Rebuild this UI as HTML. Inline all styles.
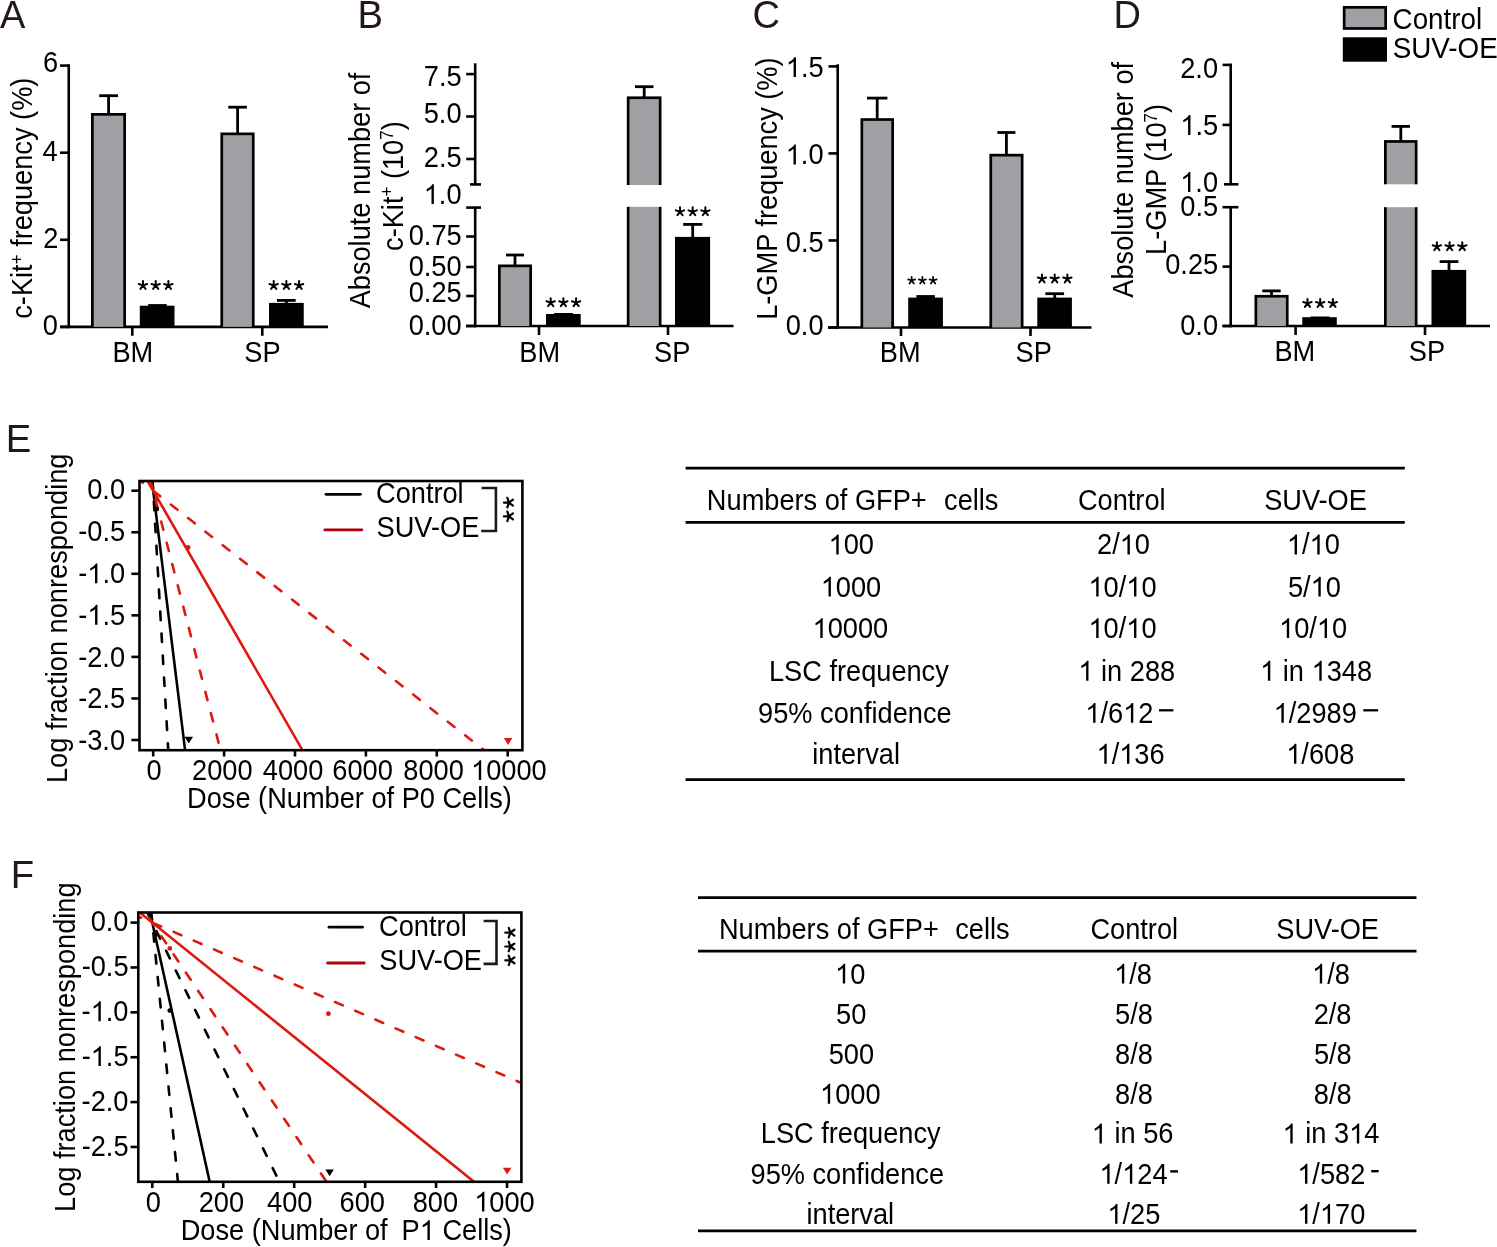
<!DOCTYPE html>
<html><head><meta charset="utf-8"><style>
html,body{margin:0;padding:0;background:#fff;overflow:hidden;}
svg{display:block;will-change:transform;}
text{font-family:"Liberation Sans",sans-serif;}
</style></head><body>
<svg width="1497" height="1247" viewBox="0 0 1497 1247" font-family="Liberation Sans, sans-serif">
<rect x="0" y="0" width="1497" height="1247" fill="#fff"/>
<text transform="translate(-0.08,27.70) scale(1,1.035)" x="0" y="0" font-size="38.021" fill="#231815" >A</text>
<text transform="translate(357.57,27.90) scale(1,1.035)" x="0" y="0" font-size="38.217999999999996" fill="#231815" >B</text>
<text transform="translate(752.56,28.30) scale(1,1.035)" x="0" y="0" font-size="38.021" fill="#231815" >C</text>
<text transform="translate(1113.48,28.10) scale(1,1.035)" x="0" y="0" font-size="38.021" fill="#231815" >D</text>
<text transform="translate(5.87,451.90) scale(1,1.035)" x="0" y="0" font-size="38.217999999999996" fill="#231815" >E</text>
<text transform="translate(10.87,888.10) scale(1,1.035)" x="0" y="0" font-size="38.217999999999996" fill="#231815" >F</text>
<line x1="68.75" y1="64.30" x2="68.75" y2="328.30" stroke="#000" stroke-width="2.6" />
<line x1="60.00" y1="65.60" x2="68.75" y2="65.60" stroke="#000" stroke-width="2.6" />
<text transform="translate(42.97,72.10) scale(1,1.06)" x="0" y="0" font-size="27.2" fill="#000" >6</text>
<line x1="60.00" y1="152.70" x2="68.75" y2="152.70" stroke="#000" stroke-width="2.6" />
<text transform="translate(42.57,161.20) scale(1,1.06)" x="0" y="0" font-size="27.2" fill="#000" >4</text>
<line x1="60.00" y1="239.80" x2="68.75" y2="239.80" stroke="#000" stroke-width="2.6" />
<text transform="translate(43.14,247.70) scale(1,1.06)" x="0" y="0" font-size="27.2" fill="#000" >2</text>
<line x1="60.00" y1="326.90" x2="68.75" y2="326.90" stroke="#000" stroke-width="2.6" />
<text transform="translate(42.84,334.90) scale(1,1.06)" x="0" y="0" font-size="27.2" fill="#000" >0</text>
<line x1="60.00" y1="326.90" x2="328.00" y2="326.90" stroke="#000" stroke-width="2.6" />
<line x1="132.30" y1="326.90" x2="132.30" y2="335.80" stroke="#000" stroke-width="2.6" />
<line x1="262.30" y1="326.90" x2="262.30" y2="335.80" stroke="#000" stroke-width="2.6" />
<rect x="91.00" y="113.00" width="35.00" height="213.90" fill="#000"/>
<rect x="93.70" y="115.70" width="29.60" height="211.20" fill="#9fa0a4"/>
<line x1="108.60" y1="114.00" x2="108.60" y2="95.70" stroke="#000" stroke-width="2.8" />
<line x1="99.20" y1="95.70" x2="118.00" y2="95.70" stroke="#000" stroke-width="2.8" />
<rect x="139.80" y="305.70" width="34.70" height="21.20" fill="#000"/>
<rect x="148.20" y="304.10" width="18.50" height="2.60" fill="#000"/>
<rect x="220.40" y="132.50" width="34.20" height="194.40" fill="#000"/>
<rect x="223.10" y="135.20" width="28.80" height="191.70" fill="#9fa0a4"/>
<line x1="237.60" y1="133.50" x2="237.60" y2="107.20" stroke="#000" stroke-width="2.8" />
<line x1="228.30" y1="107.20" x2="246.90" y2="107.20" stroke="#000" stroke-width="2.8" />
<rect x="269.00" y="302.90" width="34.75" height="24.00" fill="#000"/>
<line x1="286.35" y1="303.90" x2="286.35" y2="300.40" stroke="#000" stroke-width="2.8" />
<line x1="277.00" y1="300.40" x2="295.70" y2="300.40" stroke="#000" stroke-width="2.8" />
<path d="M142.98,285.40l0.00,-4.40M142.98,285.40l4.18,-1.36M142.98,285.40l2.59,3.56M142.98,285.40l-2.59,3.56M142.98,285.40l-4.18,-1.36" stroke="#000" stroke-width="2.0" stroke-linecap="round" fill="none"/>
<path d="M155.68,285.40l0.00,-4.40M155.68,285.40l4.18,-1.36M155.68,285.40l2.59,3.56M155.68,285.40l-2.59,3.56M155.68,285.40l-4.18,-1.36" stroke="#000" stroke-width="2.0" stroke-linecap="round" fill="none"/>
<path d="M168.38,285.40l0.00,-4.40M168.38,285.40l4.18,-1.36M168.38,285.40l2.59,3.56M168.38,285.40l-2.59,3.56M168.38,285.40l-4.18,-1.36" stroke="#000" stroke-width="2.0" stroke-linecap="round" fill="none"/>
<path d="M273.68,285.40l0.00,-4.40M273.68,285.40l4.18,-1.36M273.68,285.40l2.59,3.56M273.68,285.40l-2.59,3.56M273.68,285.40l-4.18,-1.36" stroke="#000" stroke-width="2.0" stroke-linecap="round" fill="none"/>
<path d="M286.38,285.40l0.00,-4.40M286.38,285.40l4.18,-1.36M286.38,285.40l2.59,3.56M286.38,285.40l-2.59,3.56M286.38,285.40l-4.18,-1.36" stroke="#000" stroke-width="2.0" stroke-linecap="round" fill="none"/>
<path d="M299.08,285.40l0.00,-4.40M299.08,285.40l4.18,-1.36M299.08,285.40l2.59,3.56M299.08,285.40l-2.59,3.56M299.08,285.40l-4.18,-1.36" stroke="#000" stroke-width="2.0" stroke-linecap="round" fill="none"/>
<text transform="translate(112.47,362.00) scale(1,1.06)" x="0" y="0" font-size="27.2" fill="#000" >BM</text>
<text transform="translate(244.25,361.60) scale(1,1.06)" x="0" y="0" font-size="27.2" fill="#000" >SP</text>
<text transform="translate(31.70,318.74) rotate(-90) scale(1,1.06)" x="0" y="0" font-size="27.2" fill="#000"><tspan font-size="27.2">c-Kit</tspan><tspan font-size="17" dy="-8">+</tspan><tspan font-size="27.2" dy="8"> frequency (%)</tspan></text>
<line x1="475.20" y1="63.30" x2="475.20" y2="184.40" stroke="#000" stroke-width="2.6" />
<line x1="470.00" y1="184.40" x2="481.00" y2="184.40" stroke="#000" stroke-width="2.6" />
<line x1="475.20" y1="207.60" x2="475.20" y2="327.30" stroke="#000" stroke-width="2.6" />
<line x1="466.20" y1="207.60" x2="481.00" y2="207.60" stroke="#000" stroke-width="2.6" />
<line x1="466.20" y1="74.10" x2="475.20" y2="74.10" stroke="#000" stroke-width="2.6" />
<text transform="translate(423.83,85.80) scale(1,1.06)" x="0" y="0" font-size="27.2" fill="#000" >7.5</text>
<line x1="466.20" y1="116.50" x2="475.20" y2="116.50" stroke="#000" stroke-width="2.6" />
<text transform="translate(423.75,122.70) scale(1,1.06)" x="0" y="0" font-size="27.2" fill="#000" >5.0</text>
<line x1="466.20" y1="159.00" x2="475.20" y2="159.00" stroke="#000" stroke-width="2.6" />
<text transform="translate(423.83,167.00) scale(1,1.06)" x="0" y="0" font-size="27.2" fill="#000" >2.5</text>
<text transform="translate(423.75,204.10) scale(1,1.06)" x="0.00 15.13 22.68" y="0" font-size="27.2" fill="#000" > .0</text>
<path transform="translate(423.75,204.10) scale(0.01328,-0.01355)" d="M763,0 L583,0 L583,1147 Q518,1085 421,1028 Q324,971 222,933 L222,1107 Q390,1186 499,1283.5 Q608,1381 646,1466 L763,1466 Z" fill="#000"/>
<line x1="466.20" y1="236.50" x2="475.20" y2="236.50" stroke="#000" stroke-width="2.6" />
<text transform="translate(408.71,244.50) scale(1,1.06)" x="0" y="0" font-size="27.2" fill="#000" >0.75</text>
<line x1="466.20" y1="267.00" x2="475.20" y2="267.00" stroke="#000" stroke-width="2.6" />
<text transform="translate(408.63,275.60) scale(1,1.06)" x="0" y="0" font-size="27.2" fill="#000" >0.50</text>
<line x1="466.20" y1="296.00" x2="475.20" y2="296.00" stroke="#000" stroke-width="2.6" />
<text transform="translate(408.71,301.70) scale(1,1.06)" x="0" y="0" font-size="27.2" fill="#000" >0.25</text>
<line x1="466.20" y1="326.00" x2="475.20" y2="326.00" stroke="#000" stroke-width="2.6" />
<text transform="translate(408.63,334.50) scale(1,1.06)" x="0" y="0" font-size="27.2" fill="#000" >0.00</text>
<line x1="466.20" y1="326.00" x2="733.50" y2="326.00" stroke="#000" stroke-width="2.6" />
<line x1="539.00" y1="326.00" x2="539.00" y2="335.00" stroke="#000" stroke-width="2.6" />
<line x1="668.00" y1="326.00" x2="668.00" y2="335.00" stroke="#000" stroke-width="2.6" />
<rect x="498.00" y="264.50" width="34.00" height="61.50" fill="#000"/>
<rect x="500.70" y="267.20" width="28.60" height="58.80" fill="#9fa0a4"/>
<line x1="515.00" y1="265.50" x2="515.00" y2="255.00" stroke="#000" stroke-width="2.8" />
<line x1="506.00" y1="255.00" x2="524.00" y2="255.00" stroke="#000" stroke-width="2.8" />
<rect x="546.00" y="314.00" width="34.70" height="12.00" fill="#000"/>
<rect x="554.00" y="313.00" width="18.90" height="2.00" fill="#000"/>
<rect x="626.80" y="96.40" width="34.70" height="229.60" fill="#000"/>
<rect x="629.50" y="99.10" width="29.30" height="226.90" fill="#9fa0a4"/>
<rect x="625.80" y="185.00" width="36.70" height="21.80" fill="#fff"/>
<line x1="644.20" y1="97.40" x2="644.20" y2="86.70" stroke="#000" stroke-width="2.8" />
<line x1="634.90" y1="86.70" x2="653.50" y2="86.70" stroke="#000" stroke-width="2.8" />
<rect x="675.00" y="236.90" width="35.10" height="89.10" fill="#000"/>
<line x1="692.70" y1="237.90" x2="692.70" y2="224.40" stroke="#000" stroke-width="2.8" />
<line x1="683.15" y1="224.40" x2="702.25" y2="224.40" stroke="#000" stroke-width="2.8" />
<path d="M550.68,302.60l0.00,-4.40M550.68,302.60l4.18,-1.36M550.68,302.60l2.59,3.56M550.68,302.60l-2.59,3.56M550.68,302.60l-4.18,-1.36" stroke="#000" stroke-width="2.0" stroke-linecap="round" fill="none"/>
<path d="M563.38,302.60l0.00,-4.40M563.38,302.60l4.18,-1.36M563.38,302.60l2.59,3.56M563.38,302.60l-2.59,3.56M563.38,302.60l-4.18,-1.36" stroke="#000" stroke-width="2.0" stroke-linecap="round" fill="none"/>
<path d="M576.08,302.60l0.00,-4.40M576.08,302.60l4.18,-1.36M576.08,302.60l2.59,3.56M576.08,302.60l-2.59,3.56M576.08,302.60l-4.18,-1.36" stroke="#000" stroke-width="2.0" stroke-linecap="round" fill="none"/>
<path d="M679.98,211.70l0.00,-4.40M679.98,211.70l4.18,-1.36M679.98,211.70l2.59,3.56M679.98,211.70l-2.59,3.56M679.98,211.70l-4.18,-1.36" stroke="#000" stroke-width="2.0" stroke-linecap="round" fill="none"/>
<path d="M692.68,211.70l0.00,-4.40M692.68,211.70l4.18,-1.36M692.68,211.70l2.59,3.56M692.68,211.70l-2.59,3.56M692.68,211.70l-4.18,-1.36" stroke="#000" stroke-width="2.0" stroke-linecap="round" fill="none"/>
<path d="M705.38,211.70l0.00,-4.40M705.38,211.70l4.18,-1.36M705.38,211.70l2.59,3.56M705.38,211.70l-2.59,3.56M705.38,211.70l-4.18,-1.36" stroke="#000" stroke-width="2.0" stroke-linecap="round" fill="none"/>
<text transform="translate(519.37,361.60) scale(1,1.06)" x="0" y="0" font-size="27.2" fill="#000" >BM</text>
<text transform="translate(654.05,361.60) scale(1,1.06)" x="0" y="0" font-size="27.2" fill="#000" >SP</text>
<text transform="translate(369.70,308.35) rotate(-90) scale(1,1.06)" x="0" y="0" font-size="27.2" fill="#000"><tspan font-size="27.2">Absolute number of</tspan></text>
<text transform="translate(402.50,250.94) rotate(-90) scale(1,1.06)" x="0" y="0" font-size="27.2" fill="#000"><tspan font-size="27.2">c-Kit</tspan><tspan font-size="17" dy="-9">+</tspan><tspan font-size="27.2" dy="9"> (10</tspan><tspan font-size="17" dy="-9">7</tspan><tspan font-size="27.2" dy="9">)</tspan></text>
<line x1="837.70" y1="64.30" x2="837.70" y2="328.80" stroke="#000" stroke-width="2.6" />
<line x1="828.50" y1="66.39" x2="837.70" y2="66.39" stroke="#000" stroke-width="2.6" />
<text transform="translate(785.83,77.10) scale(1,1.06)" x="0.00 15.13 22.68" y="0" font-size="27.2" fill="#000" > .5</text>
<path transform="translate(785.83,77.10) scale(0.01328,-0.01355)" d="M763,0 L583,0 L583,1147 Q518,1085 421,1028 Q324,971 222,933 L222,1107 Q390,1186 499,1283.5 Q608,1381 646,1466 L763,1466 Z" fill="#000"/>
<line x1="828.50" y1="153.43" x2="837.70" y2="153.43" stroke="#000" stroke-width="2.6" />
<text transform="translate(785.75,164.40) scale(1,1.06)" x="0.00 15.13 22.68" y="0" font-size="27.2" fill="#000" > .0</text>
<path transform="translate(785.75,164.40) scale(0.01328,-0.01355)" d="M763,0 L583,0 L583,1147 Q518,1085 421,1028 Q324,971 222,933 L222,1107 Q390,1186 499,1283.5 Q608,1381 646,1466 L763,1466 Z" fill="#000"/>
<line x1="828.50" y1="240.47" x2="837.70" y2="240.47" stroke="#000" stroke-width="2.6" />
<text transform="translate(785.83,251.90) scale(1,1.06)" x="0" y="0" font-size="27.2" fill="#000" >0.5</text>
<line x1="828.50" y1="327.50" x2="837.70" y2="327.50" stroke="#000" stroke-width="2.6" />
<text transform="translate(785.75,334.90) scale(1,1.06)" x="0" y="0" font-size="27.2" fill="#000" >0.0</text>
<line x1="828.00" y1="327.50" x2="1091.50" y2="327.50" stroke="#000" stroke-width="2.6" />
<line x1="901.00" y1="327.50" x2="901.00" y2="336.00" stroke="#000" stroke-width="2.6" />
<line x1="1030.50" y1="327.50" x2="1030.50" y2="336.00" stroke="#000" stroke-width="2.6" />
<rect x="860.50" y="118.20" width="33.50" height="209.30" fill="#000"/>
<rect x="863.20" y="120.90" width="28.10" height="206.60" fill="#9fa0a4"/>
<line x1="877.20" y1="119.20" x2="877.20" y2="98.10" stroke="#000" stroke-width="2.8" />
<line x1="867.00" y1="98.10" x2="887.40" y2="98.10" stroke="#000" stroke-width="2.8" />
<rect x="908.20" y="297.60" width="34.70" height="29.90" fill="#000"/>
<rect x="916.40" y="295.10" width="18.50" height="3.50" fill="#000"/>
<rect x="989.40" y="153.80" width="34.10" height="173.70" fill="#000"/>
<rect x="992.10" y="156.50" width="28.70" height="171.00" fill="#9fa0a4"/>
<line x1="1006.40" y1="154.80" x2="1006.40" y2="132.50" stroke="#000" stroke-width="2.8" />
<line x1="997.40" y1="132.50" x2="1015.40" y2="132.50" stroke="#000" stroke-width="2.8" />
<rect x="1037.30" y="297.60" width="34.60" height="29.90" fill="#000"/>
<line x1="1054.75" y1="298.60" x2="1054.75" y2="293.70" stroke="#000" stroke-width="2.8" />
<line x1="1045.40" y1="293.70" x2="1064.10" y2="293.70" stroke="#000" stroke-width="2.8" />
<path d="M911.67,280.55l0.00,-3.70M911.67,280.55l3.52,-1.14M911.67,280.55l2.17,2.99M911.67,280.55l-2.17,2.99M911.67,280.55l-3.52,-1.14" stroke="#000" stroke-width="1.7" stroke-linecap="round" fill="none"/>
<path d="M922.37,280.55l0.00,-3.70M922.37,280.55l3.52,-1.14M922.37,280.55l2.17,2.99M922.37,280.55l-2.17,2.99M922.37,280.55l-3.52,-1.14" stroke="#000" stroke-width="1.7" stroke-linecap="round" fill="none"/>
<path d="M933.07,280.55l0.00,-3.70M933.07,280.55l3.52,-1.14M933.07,280.55l2.17,2.99M933.07,280.55l-2.17,2.99M933.07,280.55l-3.52,-1.14" stroke="#000" stroke-width="1.7" stroke-linecap="round" fill="none"/>
<path d="M1041.98,278.80l0.00,-4.40M1041.98,278.80l4.18,-1.36M1041.98,278.80l2.59,3.56M1041.98,278.80l-2.59,3.56M1041.98,278.80l-4.18,-1.36" stroke="#000" stroke-width="2.0" stroke-linecap="round" fill="none"/>
<path d="M1054.68,278.80l0.00,-4.40M1054.68,278.80l4.18,-1.36M1054.68,278.80l2.59,3.56M1054.68,278.80l-2.59,3.56M1054.68,278.80l-4.18,-1.36" stroke="#000" stroke-width="2.0" stroke-linecap="round" fill="none"/>
<path d="M1067.38,278.80l0.00,-4.40M1067.38,278.80l4.18,-1.36M1067.38,278.80l2.59,3.56M1067.38,278.80l-2.59,3.56M1067.38,278.80l-4.18,-1.36" stroke="#000" stroke-width="2.0" stroke-linecap="round" fill="none"/>
<text transform="translate(879.77,362.00) scale(1,1.06)" x="0" y="0" font-size="27.2" fill="#000" >BM</text>
<text transform="translate(1015.55,362.00) scale(1,1.06)" x="0" y="0" font-size="27.2" fill="#000" >SP</text>
<text transform="translate(777.00,319.83) rotate(-90) scale(1,1.06)" x="0" y="0" font-size="27.2" fill="#000"><tspan font-size="27.2">L-GMP frequency (%)</tspan></text>
<line x1="1230.70" y1="63.60" x2="1230.70" y2="184.30" stroke="#000" stroke-width="2.6" />
<line x1="1224.00" y1="184.30" x2="1238.40" y2="184.30" stroke="#000" stroke-width="2.6" />
<line x1="1230.70" y1="207.20" x2="1230.70" y2="327.30" stroke="#000" stroke-width="2.6" />
<line x1="1222.50" y1="207.20" x2="1238.40" y2="207.20" stroke="#000" stroke-width="2.6" />
<line x1="1222.50" y1="64.90" x2="1230.70" y2="64.90" stroke="#000" stroke-width="2.6" />
<text transform="translate(1180.25,77.90) scale(1,1.06)" x="0" y="0" font-size="27.2" fill="#000" >2.0</text>
<line x1="1222.50" y1="124.90" x2="1230.70" y2="124.90" stroke="#000" stroke-width="2.6" />
<text transform="translate(1180.33,134.90) scale(1,1.06)" x="0.00 15.13 22.68" y="0" font-size="27.2" fill="#000" > .5</text>
<path transform="translate(1180.33,134.90) scale(0.01328,-0.01355)" d="M763,0 L583,0 L583,1147 Q518,1085 421,1028 Q324,971 222,933 L222,1107 Q390,1186 499,1283.5 Q608,1381 646,1466 L763,1466 Z" fill="#000"/>
<text transform="translate(1180.25,191.90) scale(1,1.06)" x="0.00 15.13 22.68" y="0" font-size="27.2" fill="#000" > .0</text>
<path transform="translate(1180.25,191.90) scale(0.01328,-0.01355)" d="M763,0 L583,0 L583,1147 Q518,1085 421,1028 Q324,971 222,933 L222,1107 Q390,1186 499,1283.5 Q608,1381 646,1466 L763,1466 Z" fill="#000"/>
<text transform="translate(1180.33,216.30) scale(1,1.06)" x="0" y="0" font-size="27.2" fill="#000" >0.5</text>
<line x1="1222.50" y1="266.60" x2="1230.70" y2="266.60" stroke="#000" stroke-width="2.6" />
<text transform="translate(1165.21,274.40) scale(1,1.06)" x="0" y="0" font-size="27.2" fill="#000" >0.25</text>
<line x1="1222.50" y1="326.00" x2="1230.70" y2="326.00" stroke="#000" stroke-width="2.6" />
<text transform="translate(1180.25,334.90) scale(1,1.06)" x="0" y="0" font-size="27.2" fill="#000" >0.0</text>
<line x1="1222.50" y1="326.00" x2="1490.00" y2="326.00" stroke="#000" stroke-width="2.6" />
<line x1="1295.60" y1="326.00" x2="1295.60" y2="335.00" stroke="#000" stroke-width="2.6" />
<line x1="1425.00" y1="326.00" x2="1425.00" y2="335.00" stroke="#000" stroke-width="2.6" />
<rect x="1254.50" y="294.90" width="34.10" height="31.10" fill="#000"/>
<rect x="1257.20" y="297.60" width="28.70" height="28.40" fill="#9fa0a4"/>
<line x1="1271.50" y1="295.90" x2="1271.50" y2="290.90" stroke="#000" stroke-width="2.8" />
<line x1="1262.30" y1="290.90" x2="1280.70" y2="290.90" stroke="#000" stroke-width="2.8" />
<rect x="1302.30" y="317.20" width="34.50" height="8.80" fill="#000"/>
<rect x="1310.70" y="316.50" width="18.70" height="1.70" fill="#000"/>
<rect x="1384.00" y="140.10" width="33.50" height="185.90" fill="#000"/>
<rect x="1386.70" y="142.80" width="28.10" height="183.20" fill="#9fa0a4"/>
<rect x="1383.00" y="184.30" width="35.50" height="22.90" fill="#fff"/>
<line x1="1400.80" y1="141.10" x2="1400.80" y2="126.40" stroke="#000" stroke-width="2.8" />
<line x1="1391.60" y1="126.40" x2="1410.00" y2="126.40" stroke="#000" stroke-width="2.8" />
<rect x="1431.50" y="269.90" width="34.70" height="56.10" fill="#000"/>
<line x1="1449.00" y1="270.90" x2="1449.00" y2="261.60" stroke="#000" stroke-width="2.8" />
<line x1="1439.65" y1="261.60" x2="1458.35" y2="261.60" stroke="#000" stroke-width="2.8" />
<path d="M1307.48,303.40l0.00,-4.40M1307.48,303.40l4.18,-1.36M1307.48,303.40l2.59,3.56M1307.48,303.40l-2.59,3.56M1307.48,303.40l-4.18,-1.36" stroke="#000" stroke-width="2.0" stroke-linecap="round" fill="none"/>
<path d="M1320.18,303.40l0.00,-4.40M1320.18,303.40l4.18,-1.36M1320.18,303.40l2.59,3.56M1320.18,303.40l-2.59,3.56M1320.18,303.40l-4.18,-1.36" stroke="#000" stroke-width="2.0" stroke-linecap="round" fill="none"/>
<path d="M1332.88,303.40l0.00,-4.40M1332.88,303.40l4.18,-1.36M1332.88,303.40l2.59,3.56M1332.88,303.40l-2.59,3.56M1332.88,303.40l-4.18,-1.36" stroke="#000" stroke-width="2.0" stroke-linecap="round" fill="none"/>
<path d="M1436.88,246.60l0.00,-4.40M1436.88,246.60l4.18,-1.36M1436.88,246.60l2.59,3.56M1436.88,246.60l-2.59,3.56M1436.88,246.60l-4.18,-1.36" stroke="#000" stroke-width="2.0" stroke-linecap="round" fill="none"/>
<path d="M1449.58,246.60l0.00,-4.40M1449.58,246.60l4.18,-1.36M1449.58,246.60l2.59,3.56M1449.58,246.60l-2.59,3.56M1449.58,246.60l-4.18,-1.36" stroke="#000" stroke-width="2.0" stroke-linecap="round" fill="none"/>
<path d="M1462.28,246.60l0.00,-4.40M1462.28,246.60l4.18,-1.36M1462.28,246.60l2.59,3.56M1462.28,246.60l-2.59,3.56M1462.28,246.60l-4.18,-1.36" stroke="#000" stroke-width="2.0" stroke-linecap="round" fill="none"/>
<text transform="translate(1274.47,361.00) scale(1,1.06)" x="0" y="0" font-size="27.2" fill="#000" >BM</text>
<text transform="translate(1408.75,361.00) scale(1,1.06)" x="0" y="0" font-size="27.2" fill="#000" >SP</text>
<text transform="translate(1133.40,297.65) rotate(-90) scale(1,1.06)" x="0" y="0" font-size="27.2" fill="#000"><tspan font-size="27.2">Absolute number of</tspan></text>
<text transform="translate(1166.20,254.93) rotate(-90) scale(1,1.06)" x="0" y="0" font-size="27.2" fill="#000"><tspan font-size="27.2">L-GMP (10</tspan><tspan font-size="17" dy="-9">7</tspan><tspan font-size="27.2" dy="9">)</tspan></text>
<rect x="1342.80" y="6.00" width="44.20" height="23.80" fill="#000"/>
<rect x="1345.50" y="8.70" width="38.80" height="18.40" fill="#9fa0a4"/>
<rect x="1342.80" y="37.30" width="44.20" height="24.40" fill="#000"/>
<text transform="translate(1392.58,29.00) scale(1,1.06)" x="0" y="0" font-size="27.8" fill="#000" >Control</text>
<text transform="translate(1392.72,57.90) scale(1,1.06)" x="0" y="0" font-size="27.8" fill="#000" >SUV-OE</text>
<clipPath id="cE"><rect x="139.5" y="481" width="382.9" height="269.20000000000005"/></clipPath>
<g clip-path="url(#cE)">
<line x1="152.64" y1="481.00" x2="168.26" y2="750.20" stroke="#000" stroke-width="2.6" stroke-linecap="round" stroke-dasharray="8.5 13.5" stroke-dashoffset="1.2"/>
<line x1="152.01" y1="481.00" x2="185.08" y2="750.20" stroke="#000" stroke-width="2.6" stroke-linecap="round"/>
<line x1="140.83" y1="481.00" x2="484.09" y2="750.20" stroke="#dc1a10" stroke-width="2.6" stroke-linecap="round" stroke-dasharray="8.5 13.5" stroke-dashoffset="5.9"/>
<line x1="147.62" y1="481.00" x2="302.43" y2="750.20" stroke="#dc1a10" stroke-width="2.6" stroke-linecap="round"/>
<line x1="150.68" y1="481.00" x2="220.51" y2="750.20" stroke="#dc1a10" stroke-width="2.6" stroke-linecap="round" stroke-dasharray="8.5 13.5" stroke-dashoffset="2.2"/>
</g>
<rect x="139.5" y="481" width="382.9" height="269.20000000000005" fill="none" stroke="#000" stroke-width="2.6"/>
<line x1="131.40" y1="490.70" x2="139.50" y2="490.70" stroke="#000" stroke-width="2.6" />
<text transform="translate(87.25,499.10) scale(1,1.06)" x="0" y="0" font-size="27.2" fill="#000" >0.0</text>
<line x1="131.40" y1="532.25" x2="139.50" y2="532.25" stroke="#000" stroke-width="2.6" />
<text transform="translate(78.28,540.90) scale(1,1.06)" x="0" y="0" font-size="27.2" fill="#000" >-0.5</text>
<line x1="131.40" y1="573.80" x2="139.50" y2="573.80" stroke="#000" stroke-width="2.6" />
<text transform="translate(78.20,583.30) scale(1,1.06)" x="0.00 9.06 24.19 31.74" y="0" font-size="27.2" fill="#000" >- .0</text>
<path transform="translate(87.25,583.30) scale(0.01328,-0.01355)" d="M763,0 L583,0 L583,1147 Q518,1085 421,1028 Q324,971 222,933 L222,1107 Q390,1186 499,1283.5 Q608,1381 646,1466 L763,1466 Z" fill="#000"/>
<line x1="131.40" y1="615.35" x2="139.50" y2="615.35" stroke="#000" stroke-width="2.6" />
<text transform="translate(78.28,624.70) scale(1,1.06)" x="0.00 9.06 24.19 31.74" y="0" font-size="27.2" fill="#000" >- .5</text>
<path transform="translate(87.33,624.70) scale(0.01328,-0.01355)" d="M763,0 L583,0 L583,1147 Q518,1085 421,1028 Q324,971 222,933 L222,1107 Q390,1186 499,1283.5 Q608,1381 646,1466 L763,1466 Z" fill="#000"/>
<line x1="131.40" y1="656.90" x2="139.50" y2="656.90" stroke="#000" stroke-width="2.6" />
<text transform="translate(78.20,666.50) scale(1,1.06)" x="0" y="0" font-size="27.2" fill="#000" >-2.0</text>
<line x1="131.40" y1="698.45" x2="139.50" y2="698.45" stroke="#000" stroke-width="2.6" />
<text transform="translate(78.28,708.40) scale(1,1.06)" x="0" y="0" font-size="27.2" fill="#000" >-2.5</text>
<line x1="131.40" y1="740.00" x2="139.50" y2="740.00" stroke="#000" stroke-width="2.6" />
<text transform="translate(78.20,750.20) scale(1,1.06)" x="0" y="0" font-size="27.2" fill="#000" >-3.0</text>
<line x1="153.20" y1="750.20" x2="153.20" y2="756.50" stroke="#000" stroke-width="2.6" />
<text transform="translate(146.44,780.10) scale(1,1.06)" x="0" y="0" font-size="27.2" fill="#000" >0</text>
<line x1="224.10" y1="750.20" x2="224.10" y2="756.50" stroke="#000" stroke-width="2.6" />
<text transform="translate(192.04,780.10) scale(1,1.06)" x="0" y="0" font-size="27.2" fill="#000" >2000</text>
<line x1="295.00" y1="750.20" x2="295.00" y2="756.50" stroke="#000" stroke-width="2.6" />
<text transform="translate(262.77,780.10) scale(1,1.06)" x="0" y="0" font-size="27.2" fill="#000" >4000</text>
<line x1="365.90" y1="750.20" x2="365.90" y2="756.50" stroke="#000" stroke-width="2.6" />
<text transform="translate(332.31,780.10) scale(1,1.06)" x="0" y="0" font-size="27.2" fill="#000" >6000</text>
<line x1="436.80" y1="750.20" x2="436.80" y2="756.50" stroke="#000" stroke-width="2.6" />
<text transform="translate(403.33,780.10) scale(1,1.06)" x="0" y="0" font-size="27.2" fill="#000" >8000</text>
<line x1="507.70" y1="750.20" x2="507.70" y2="756.50" stroke="#000" stroke-width="2.6" />
<text transform="translate(471.05,780.10) scale(1,1.06)" x="0.00 15.13 30.25 45.38 60.51" y="0" font-size="27.2" fill="#000" > 0000</text>
<path transform="translate(471.05,780.10) scale(0.01328,-0.01355)" d="M763,0 L583,0 L583,1147 Q518,1085 421,1028 Q324,971 222,933 L222,1107 Q390,1186 499,1283.5 Q608,1381 646,1466 L763,1466 Z" fill="#000"/>
<text transform="translate(187.07,808.00) scale(1,1.06)" x="0" y="0" font-size="27.2" fill="#000" >Dose (Number of P0 Cells)</text>
<text transform="translate(67.40,783.03) rotate(-90) scale(1,1.06)" x="0" y="0" font-size="27.2" fill="#000"><tspan font-size="27.2">Log fraction nonresponding</tspan></text>
<circle cx="156.70" cy="499.50" r="2.4" fill="#dc1a10"/>
<circle cx="156.70" cy="509.20" r="2.4" fill="#000"/>
<circle cx="188.10" cy="547.50" r="2.4" fill="#dc1a10"/>
<path d="M184.55,736.70 L193.05,736.70 L188.80,743.50 Z" fill="#000"/>
<path d="M503.85,738.10 L512.35,738.10 L508.10,744.90 Z" fill="#dc1a10"/>
<line x1="326.00" y1="494.30" x2="360.50" y2="494.30" stroke="#0a0000" stroke-width="2.8" stroke-linecap="round"/>
<line x1="324.80" y1="529.80" x2="361.90" y2="529.80" stroke="#b0000a" stroke-width="2.8" stroke-linecap="round"/>
<text transform="translate(376.01,502.90) scale(1,1.06)" x="0" y="0" font-size="27.2" fill="#000" >Control</text>
<text transform="translate(376.55,537.00) scale(1,1.06)" x="0" y="0" font-size="27.2" fill="#000" >SUV-OE</text>
<path d="M481.6,488 H495.9 V531 H481.2" fill="none" stroke="#231815" stroke-width="2.6"/>
<path d="M508.90,502.60l-5.00,-0.00M508.90,502.60l-1.55,-4.76M508.90,502.60l4.05,-2.94M508.90,502.60l4.05,2.94M508.90,502.60l-1.55,4.76" stroke="#000" stroke-width="2.2" stroke-linecap="round" fill="none"/>
<path d="M508.90,516.40l-5.00,-0.00M508.90,516.40l-1.55,-4.76M508.90,516.40l4.05,-2.94M508.90,516.40l4.05,2.94M508.90,516.40l-1.55,4.76" stroke="#000" stroke-width="2.2" stroke-linecap="round" fill="none"/>
<clipPath id="cF"><rect x="138.3" y="912.5" width="383.09999999999997" height="269.29999999999995"/></clipPath>
<g clip-path="url(#cF)">
<line x1="151.30" y1="912.50" x2="177.92" y2="1181.80" stroke="#000" stroke-width="2.6" stroke-linecap="round" stroke-dasharray="8.5 13.5" stroke-dashoffset="1.2"/>
<line x1="150.06" y1="912.50" x2="209.68" y2="1181.80" stroke="#000" stroke-width="2.6" stroke-linecap="round"/>
<line x1="147.35" y1="912.50" x2="279.36" y2="1181.80" stroke="#000" stroke-width="2.6" stroke-linecap="round" stroke-dasharray="8.5 13.5" stroke-dashoffset="1.4"/>
<line x1="138.30" y1="916.51" x2="521.40" y2="1083.03" stroke="#dc1a10" stroke-width="2.6" stroke-linecap="round" stroke-dasharray="8.5 13.5" stroke-dashoffset="5.5"/>
<line x1="139.76" y1="912.50" x2="474.04" y2="1181.80" stroke="#dc1a10" stroke-width="2.6" stroke-linecap="round"/>
<line x1="145.51" y1="912.50" x2="326.49" y2="1181.80" stroke="#dc1a10" stroke-width="2.6" stroke-linecap="round" stroke-dasharray="8.5 13.5" stroke-dashoffset="-6.5"/>
</g>
<rect x="138.3" y="912.5" width="383.09999999999997" height="269.29999999999995" fill="none" stroke="#000" stroke-width="2.6"/>
<line x1="130.50" y1="922.60" x2="138.30" y2="922.60" stroke="#000" stroke-width="2.6" />
<text transform="translate(90.65,931.40) scale(1,1.06)" x="0" y="0" font-size="27.2" fill="#000" >0.0</text>
<line x1="130.50" y1="967.47" x2="138.30" y2="967.47" stroke="#000" stroke-width="2.6" />
<text transform="translate(81.68,976.27) scale(1,1.06)" x="0" y="0" font-size="27.2" fill="#000" >-0.5</text>
<line x1="130.50" y1="1012.34" x2="138.30" y2="1012.34" stroke="#000" stroke-width="2.6" />
<text transform="translate(81.60,1021.14) scale(1,1.06)" x="0.00 9.06 24.19 31.74" y="0" font-size="27.2" fill="#000" >- .0</text>
<path transform="translate(90.65,1021.14) scale(0.01328,-0.01355)" d="M763,0 L583,0 L583,1147 Q518,1085 421,1028 Q324,971 222,933 L222,1107 Q390,1186 499,1283.5 Q608,1381 646,1466 L763,1466 Z" fill="#000"/>
<line x1="130.50" y1="1057.21" x2="138.30" y2="1057.21" stroke="#000" stroke-width="2.6" />
<text transform="translate(81.68,1066.01) scale(1,1.06)" x="0.00 9.06 24.19 31.74" y="0" font-size="27.2" fill="#000" >- .5</text>
<path transform="translate(90.73,1066.01) scale(0.01328,-0.01355)" d="M763,0 L583,0 L583,1147 Q518,1085 421,1028 Q324,971 222,933 L222,1107 Q390,1186 499,1283.5 Q608,1381 646,1466 L763,1466 Z" fill="#000"/>
<line x1="130.50" y1="1102.08" x2="138.30" y2="1102.08" stroke="#000" stroke-width="2.6" />
<text transform="translate(81.60,1110.88) scale(1,1.06)" x="0" y="0" font-size="27.2" fill="#000" >-2.0</text>
<line x1="130.50" y1="1146.95" x2="138.30" y2="1146.95" stroke="#000" stroke-width="2.6" />
<text transform="translate(81.68,1155.75) scale(1,1.06)" x="0" y="0" font-size="27.2" fill="#000" >-2.5</text>
<line x1="152.30" y1="1181.80" x2="152.30" y2="1188.00" stroke="#000" stroke-width="2.6" />
<text transform="translate(145.64,1211.50) scale(1,1.06)" x="0" y="0" font-size="27.2" fill="#000" >0</text>
<line x1="223.25" y1="1181.80" x2="223.25" y2="1188.00" stroke="#000" stroke-width="2.6" />
<text transform="translate(198.74,1211.50) scale(1,1.06)" x="0" y="0" font-size="27.2" fill="#000" >200</text>
<line x1="294.20" y1="1181.80" x2="294.20" y2="1188.00" stroke="#000" stroke-width="2.6" />
<text transform="translate(267.07,1211.50) scale(1,1.06)" x="0" y="0" font-size="27.2" fill="#000" >400</text>
<line x1="365.15" y1="1181.80" x2="365.15" y2="1188.00" stroke="#000" stroke-width="2.6" />
<text transform="translate(339.51,1211.50) scale(1,1.06)" x="0" y="0" font-size="27.2" fill="#000" >600</text>
<line x1="436.10" y1="1181.80" x2="436.10" y2="1188.00" stroke="#000" stroke-width="2.6" />
<text transform="translate(412.73,1211.50) scale(1,1.06)" x="0" y="0" font-size="27.2" fill="#000" >800</text>
<line x1="507.05" y1="1181.80" x2="507.05" y2="1188.00" stroke="#000" stroke-width="2.6" />
<text transform="translate(474.25,1211.50) scale(1,1.06)" x="0.00 15.13 30.25 45.38" y="0" font-size="27.2" fill="#000" > 000</text>
<path transform="translate(474.25,1211.50) scale(0.01328,-0.01355)" d="M763,0 L583,0 L583,1147 Q518,1085 421,1028 Q324,971 222,933 L222,1107 Q390,1186 499,1283.5 Q608,1381 646,1466 L763,1466 Z" fill="#000"/>
<text transform="translate(180.67,1240.00) scale(1,1.06)" x="0" y="0" font-size="27.2" fill="#000" >Dose (Number of</text>
<text transform="translate(401.57,1240.00) scale(1,1.06)" x="0.00 18.14 33.27 40.83 60.47 75.60 81.64 87.68 101.28" y="0" font-size="27.2" fill="#000" >P  Cells)</text>
<path transform="translate(419.71,1240.00) scale(0.01328,-0.01355)" d="M763,0 L583,0 L583,1147 Q518,1085 421,1028 Q324,971 222,933 L222,1107 Q390,1186 499,1283.5 Q608,1381 646,1466 L763,1466 Z" fill="#000"/>
<text transform="translate(74.60,1211.93) rotate(-90) scale(1,1.06)" x="0" y="0" font-size="27.2" fill="#000"><tspan font-size="27.2">Log fraction nonresponding</tspan></text>
<circle cx="155.80" cy="934.60" r="2.4" fill="#dc1a10"/>
<circle cx="155.80" cy="934.60" r="2.4" fill="#000"/>
<circle cx="169.80" cy="1010.60" r="2.4" fill="#000"/>
<circle cx="169.80" cy="948.40" r="2.4" fill="#dc1a10"/>
<circle cx="328.40" cy="1013.70" r="2.4" fill="#dc1a10"/>
<path d="M325.35,1169.50 L333.85,1169.50 L329.60,1176.30 Z" fill="#000"/>
<path d="M502.85,1167.80 L511.35,1167.80 L507.10,1174.60 Z" fill="#dc1a10"/>
<line x1="329.00" y1="927.20" x2="362.50" y2="927.20" stroke="#0a0000" stroke-width="2.8" stroke-linecap="round"/>
<line x1="327.60" y1="963.00" x2="364.20" y2="963.00" stroke="#b0000a" stroke-width="2.8" stroke-linecap="round"/>
<text transform="translate(379.11,935.80) scale(1,1.06)" x="0" y="0" font-size="27.2" fill="#000" >Control</text>
<text transform="translate(379.25,970.20) scale(1,1.06)" x="0" y="0" font-size="27.2" fill="#000" >SUV-OE</text>
<path d="M483.6,921 H496.5 V963.9 H483.6" fill="none" stroke="#231815" stroke-width="2.6"/>
<path d="M510.30,932.70l-5.00,-0.00M510.30,932.70l-1.55,-4.76M510.30,932.70l4.05,-2.94M510.30,932.70l4.05,2.94M510.30,932.70l-1.55,4.76" stroke="#000" stroke-width="2.2" stroke-linecap="round" fill="none"/>
<path d="M510.30,946.50l-5.00,-0.00M510.30,946.50l-1.55,-4.76M510.30,946.50l4.05,-2.94M510.30,946.50l4.05,2.94M510.30,946.50l-1.55,4.76" stroke="#000" stroke-width="2.2" stroke-linecap="round" fill="none"/>
<path d="M510.30,960.30l-5.00,-0.00M510.30,960.30l-1.55,-4.76M510.30,960.30l4.05,-2.94M510.30,960.30l4.05,2.94M510.30,960.30l-1.55,4.76" stroke="#000" stroke-width="2.2" stroke-linecap="round" fill="none"/>
<line x1="685.60" y1="468.20" x2="1404.80" y2="468.20" stroke="#000" stroke-width="2.7" />
<line x1="685.60" y1="522.40" x2="1404.80" y2="522.40" stroke="#000" stroke-width="2.7" />
<line x1="685.60" y1="779.70" x2="1404.80" y2="779.70" stroke="#000" stroke-width="2.7" />
<text transform="translate(706.87,509.80) scale(1,1.06)" x="0" y="0" font-size="27.2" fill="#000" >Numbers of GFP+</text>
<text transform="translate(944.06,509.80) scale(1,1.06)" x="0" y="0" font-size="27.2" fill="#000" >cells</text>
<text transform="translate(1077.91,509.80) scale(1,1.06)" x="0" y="0" font-size="27.2" fill="#000" >Control</text>
<text transform="translate(1264.15,509.80) scale(1,1.06)" x="0" y="0" font-size="27.2" fill="#000" >SUV-OE</text>
<text transform="translate(828.55,554.40) scale(1,1.06)" x="0.00 15.13 30.25" y="0" font-size="27.2" fill="#000" > 00</text>
<path transform="translate(828.55,554.40) scale(0.01328,-0.01355)" d="M763,0 L583,0 L583,1147 Q518,1085 421,1028 Q324,971 222,933 L222,1107 Q390,1186 499,1283.5 Q608,1381 646,1466 L763,1466 Z" fill="#000"/>
<text transform="translate(1097.04,554.40) scale(1,1.06)" x="0.00 15.13 22.68 37.81" y="0" font-size="27.2" fill="#000" >2/ 0</text>
<path transform="translate(1119.72,554.40) scale(0.01328,-0.01355)" d="M763,0 L583,0 L583,1147 Q518,1085 421,1028 Q324,971 222,933 L222,1107 Q390,1186 499,1283.5 Q608,1381 646,1466 L763,1466 Z" fill="#000"/>
<text transform="translate(1286.85,554.40) scale(1,1.06)" x="0.00 15.13 22.68 37.81" y="0" font-size="27.2" fill="#000" > / 0</text>
<path transform="translate(1286.85,554.40) scale(0.01328,-0.01355)" d="M763,0 L583,0 L583,1147 Q518,1085 421,1028 Q324,971 222,933 L222,1107 Q390,1186 499,1283.5 Q608,1381 646,1466 L763,1466 Z" fill="#000"/>
<path transform="translate(1309.54,554.40) scale(0.01328,-0.01355)" d="M763,0 L583,0 L583,1147 Q518,1085 421,1028 Q324,971 222,933 L222,1107 Q390,1186 499,1283.5 Q608,1381 646,1466 L763,1466 Z" fill="#000"/>
<text transform="translate(820.75,596.50) scale(1,1.06)" x="0.00 15.13 30.25 45.38" y="0" font-size="27.2" fill="#000" > 000</text>
<path transform="translate(820.75,596.50) scale(0.01328,-0.01355)" d="M763,0 L583,0 L583,1147 Q518,1085 421,1028 Q324,971 222,933 L222,1107 Q390,1186 499,1283.5 Q608,1381 646,1466 L763,1466 Z" fill="#000"/>
<text transform="translate(1088.45,596.50) scale(1,1.06)" x="0.00 15.13 30.25 37.81 52.94" y="0" font-size="27.2" fill="#000" > 0/ 0</text>
<path transform="translate(1088.45,596.50) scale(0.01328,-0.01355)" d="M763,0 L583,0 L583,1147 Q518,1085 421,1028 Q324,971 222,933 L222,1107 Q390,1186 499,1283.5 Q608,1381 646,1466 L763,1466 Z" fill="#000"/>
<path transform="translate(1126.26,596.50) scale(0.01328,-0.01355)" d="M763,0 L583,0 L583,1147 Q518,1085 421,1028 Q324,971 222,933 L222,1107 Q390,1186 499,1283.5 Q608,1381 646,1466 L763,1466 Z" fill="#000"/>
<text transform="translate(1287.91,596.50) scale(1,1.06)" x="0.00 15.13 22.68 37.81" y="0" font-size="27.2" fill="#000" >5/ 0</text>
<path transform="translate(1310.60,596.50) scale(0.01328,-0.01355)" d="M763,0 L583,0 L583,1147 Q518,1085 421,1028 Q324,971 222,933 L222,1107 Q390,1186 499,1283.5 Q608,1381 646,1466 L763,1466 Z" fill="#000"/>
<text transform="translate(812.55,638.00) scale(1,1.06)" x="0.00 15.13 30.25 45.38 60.51" y="0" font-size="27.2" fill="#000" > 0000</text>
<path transform="translate(812.55,638.00) scale(0.01328,-0.01355)" d="M763,0 L583,0 L583,1147 Q518,1085 421,1028 Q324,971 222,933 L222,1107 Q390,1186 499,1283.5 Q608,1381 646,1466 L763,1466 Z" fill="#000"/>
<text transform="translate(1088.45,638.00) scale(1,1.06)" x="0.00 15.13 30.25 37.81 52.94" y="0" font-size="27.2" fill="#000" > 0/ 0</text>
<path transform="translate(1088.45,638.00) scale(0.01328,-0.01355)" d="M763,0 L583,0 L583,1147 Q518,1085 421,1028 Q324,971 222,933 L222,1107 Q390,1186 499,1283.5 Q608,1381 646,1466 L763,1466 Z" fill="#000"/>
<path transform="translate(1126.26,638.00) scale(0.01328,-0.01355)" d="M763,0 L583,0 L583,1147 Q518,1085 421,1028 Q324,971 222,933 L222,1107 Q390,1186 499,1283.5 Q608,1381 646,1466 L763,1466 Z" fill="#000"/>
<text transform="translate(1279.05,638.00) scale(1,1.06)" x="0.00 15.13 30.25 37.81 52.94" y="0" font-size="27.2" fill="#000" > 0/ 0</text>
<path transform="translate(1279.05,638.00) scale(0.01328,-0.01355)" d="M763,0 L583,0 L583,1147 Q518,1085 421,1028 Q324,971 222,933 L222,1107 Q390,1186 499,1283.5 Q608,1381 646,1466 L763,1466 Z" fill="#000"/>
<path transform="translate(1316.86,638.00) scale(0.01328,-0.01355)" d="M763,0 L583,0 L583,1147 Q518,1085 421,1028 Q324,971 222,933 L222,1107 Q390,1186 499,1283.5 Q608,1381 646,1466 L763,1466 Z" fill="#000"/>
<text transform="translate(768.97,680.70) scale(1,1.06)" x="0" y="0" font-size="27.2" fill="#000" >LSC frequency</text>
<text transform="translate(1078.35,680.70) scale(1,1.06)" x="0.00 15.13 22.68 28.73 43.85 51.41 66.54 81.67" y="0" font-size="27.2" fill="#000" >  in 288</text>
<path transform="translate(1078.35,680.70) scale(0.01328,-0.01355)" d="M763,0 L583,0 L583,1147 Q518,1085 421,1028 Q324,971 222,933 L222,1107 Q390,1186 499,1283.5 Q608,1381 646,1466 L763,1466 Z" fill="#000"/>
<text transform="translate(1260.15,680.70) scale(1,1.06)" x="0.00 15.13 22.68 28.73 43.85 51.41 66.54 81.67 96.79" y="0" font-size="27.2" fill="#000" >  in  348</text>
<path transform="translate(1260.15,680.70) scale(0.01328,-0.01355)" d="M763,0 L583,0 L583,1147 Q518,1085 421,1028 Q324,971 222,933 L222,1107 Q390,1186 499,1283.5 Q608,1381 646,1466 L763,1466 Z" fill="#000"/>
<path transform="translate(1311.56,680.70) scale(0.01328,-0.01355)" d="M763,0 L583,0 L583,1147 Q518,1085 421,1028 Q324,971 222,933 L222,1107 Q390,1186 499,1283.5 Q608,1381 646,1466 L763,1466 Z" fill="#000"/>
<text transform="translate(758.12,722.80) scale(1,1.06)" x="0" y="0" font-size="27.2" fill="#000" >95% confidence</text>
<text transform="translate(1085.35,722.80) scale(1,1.06)" x="0.00 15.13 22.68 37.81 52.94" y="0" font-size="27.2" fill="#000" > /6 2</text>
<path transform="translate(1085.35,722.80) scale(0.01328,-0.01355)" d="M763,0 L583,0 L583,1147 Q518,1085 421,1028 Q324,971 222,933 L222,1107 Q390,1186 499,1283.5 Q608,1381 646,1466 L763,1466 Z" fill="#000"/>
<path transform="translate(1123.16,722.80) scale(0.01328,-0.01355)" d="M763,0 L583,0 L583,1147 Q518,1085 421,1028 Q324,971 222,933 L222,1107 Q390,1186 499,1283.5 Q608,1381 646,1466 L763,1466 Z" fill="#000"/>
<text transform="translate(1273.65,722.80) scale(1,1.06)" x="0.00 15.13 22.68 37.81 52.94 68.07" y="0" font-size="27.2" fill="#000" > /2989</text>
<path transform="translate(1273.65,722.80) scale(0.01328,-0.01355)" d="M763,0 L583,0 L583,1147 Q518,1085 421,1028 Q324,971 222,933 L222,1107 Q390,1186 499,1283.5 Q608,1381 646,1466 L763,1466 Z" fill="#000"/>
<text transform="translate(812.28,763.70) scale(1,1.06)" x="0" y="0" font-size="27.2" fill="#000" >interval</text>
<text transform="translate(1096.55,763.70) scale(1,1.06)" x="0.00 15.13 22.68 37.81 52.94" y="0" font-size="27.2" fill="#000" > / 36</text>
<path transform="translate(1096.55,763.70) scale(0.01328,-0.01355)" d="M763,0 L583,0 L583,1147 Q518,1085 421,1028 Q324,971 222,933 L222,1107 Q390,1186 499,1283.5 Q608,1381 646,1466 L763,1466 Z" fill="#000"/>
<path transform="translate(1119.24,763.70) scale(0.01328,-0.01355)" d="M763,0 L583,0 L583,1147 Q518,1085 421,1028 Q324,971 222,933 L222,1107 Q390,1186 499,1283.5 Q608,1381 646,1466 L763,1466 Z" fill="#000"/>
<text transform="translate(1286.25,763.70) scale(1,1.06)" x="0.00 15.13 22.68 37.81 52.94" y="0" font-size="27.2" fill="#000" > /608</text>
<path transform="translate(1286.25,763.70) scale(0.01328,-0.01355)" d="M763,0 L583,0 L583,1147 Q518,1085 421,1028 Q324,971 222,933 L222,1107 Q390,1186 499,1283.5 Q608,1381 646,1466 L763,1466 Z" fill="#000"/>
<line x1="1159.00" y1="710.30" x2="1173.40" y2="710.30" stroke="#000" stroke-width="2.3" />
<line x1="1363.30" y1="710.30" x2="1378.20" y2="710.30" stroke="#000" stroke-width="2.3" />
<line x1="698.00" y1="897.70" x2="1416.50" y2="897.70" stroke="#000" stroke-width="2.7" />
<line x1="698.00" y1="951.20" x2="1416.50" y2="951.20" stroke="#000" stroke-width="2.7" />
<line x1="698.00" y1="1230.80" x2="1416.50" y2="1230.80" stroke="#000" stroke-width="2.7" />
<text transform="translate(718.97,938.90) scale(1,1.06)" x="0" y="0" font-size="27.2" fill="#000" >Numbers of GFP+</text>
<text transform="translate(955.26,938.90) scale(1,1.06)" x="0" y="0" font-size="27.2" fill="#000" >cells</text>
<text transform="translate(1090.41,938.90) scale(1,1.06)" x="0" y="0" font-size="27.2" fill="#000" >Control</text>
<text transform="translate(1276.25,938.90) scale(1,1.06)" x="0" y="0" font-size="27.2" fill="#000" >SUV-OE</text>
<text transform="translate(835.05,983.60) scale(1,1.06)" x="0.00 15.13" y="0" font-size="27.2" fill="#000" > 0</text>
<path transform="translate(835.05,983.60) scale(0.01328,-0.01355)" d="M763,0 L583,0 L583,1147 Q518,1085 421,1028 Q324,971 222,933 L222,1107 Q390,1186 499,1283.5 Q608,1381 646,1466 L763,1466 Z" fill="#000"/>
<text transform="translate(1114.15,983.60) scale(1,1.06)" x="0.00 15.13 22.68" y="0" font-size="27.2" fill="#000" > /8</text>
<path transform="translate(1114.15,983.60) scale(0.01328,-0.01355)" d="M763,0 L583,0 L583,1147 Q518,1085 421,1028 Q324,971 222,933 L222,1107 Q390,1186 499,1283.5 Q608,1381 646,1466 L763,1466 Z" fill="#000"/>
<text transform="translate(1312.05,983.60) scale(1,1.06)" x="0.00 15.13 22.68" y="0" font-size="27.2" fill="#000" > /8</text>
<path transform="translate(1312.05,983.60) scale(0.01328,-0.01355)" d="M763,0 L583,0 L583,1147 Q518,1085 421,1028 Q324,971 222,933 L222,1107 Q390,1186 499,1283.5 Q608,1381 646,1466 L763,1466 Z" fill="#000"/>
<text transform="translate(836.11,1023.60) scale(1,1.06)" x="0" y="0" font-size="27.2" fill="#000" >50</text>
<text transform="translate(1115.11,1023.60) scale(1,1.06)" x="0" y="0" font-size="27.2" fill="#000" >5/8</text>
<text transform="translate(1313.64,1023.60) scale(1,1.06)" x="0" y="0" font-size="27.2" fill="#000" >2/8</text>
<text transform="translate(828.71,1064.00) scale(1,1.06)" x="0" y="0" font-size="27.2" fill="#000" >500</text>
<text transform="translate(1115.03,1064.00) scale(1,1.06)" x="0" y="0" font-size="27.2" fill="#000" >8/8</text>
<text transform="translate(1313.91,1064.00) scale(1,1.06)" x="0" y="0" font-size="27.2" fill="#000" >5/8</text>
<text transform="translate(820.05,1103.70) scale(1,1.06)" x="0.00 15.13 30.25 45.38" y="0" font-size="27.2" fill="#000" > 000</text>
<path transform="translate(820.05,1103.70) scale(0.01328,-0.01355)" d="M763,0 L583,0 L583,1147 Q518,1085 421,1028 Q324,971 222,933 L222,1107 Q390,1186 499,1283.5 Q608,1381 646,1466 L763,1466 Z" fill="#000"/>
<text transform="translate(1115.03,1103.70) scale(1,1.06)" x="0" y="0" font-size="27.2" fill="#000" >8/8</text>
<text transform="translate(1313.83,1103.70) scale(1,1.06)" x="0" y="0" font-size="27.2" fill="#000" >8/8</text>
<text transform="translate(760.77,1143.40) scale(1,1.06)" x="0" y="0" font-size="27.2" fill="#000" >LSC frequency</text>
<text transform="translate(1091.75,1143.40) scale(1,1.06)" x="0.00 15.13 22.68 28.73 43.85 51.41 66.54" y="0" font-size="27.2" fill="#000" >  in 56</text>
<path transform="translate(1091.75,1143.40) scale(0.01328,-0.01355)" d="M763,0 L583,0 L583,1147 Q518,1085 421,1028 Q324,971 222,933 L222,1107 Q390,1186 499,1283.5 Q608,1381 646,1466 L763,1466 Z" fill="#000"/>
<text transform="translate(1282.55,1143.40) scale(1,1.06)" x="0.00 15.13 22.68 28.73 43.85 51.41 66.54 81.67" y="0" font-size="27.2" fill="#000" >  in 3 4</text>
<path transform="translate(1282.55,1143.40) scale(0.01328,-0.01355)" d="M763,0 L583,0 L583,1147 Q518,1085 421,1028 Q324,971 222,933 L222,1107 Q390,1186 499,1283.5 Q608,1381 646,1466 L763,1466 Z" fill="#000"/>
<path transform="translate(1349.09,1143.40) scale(0.01328,-0.01355)" d="M763,0 L583,0 L583,1147 Q518,1085 421,1028 Q324,971 222,933 L222,1107 Q390,1186 499,1283.5 Q608,1381 646,1466 L763,1466 Z" fill="#000"/>
<text transform="translate(750.52,1183.70) scale(1,1.06)" x="0" y="0" font-size="27.2" fill="#000" >95% confidence</text>
<text transform="translate(1099.45,1183.70) scale(1,1.06)" x="0.00 15.13 22.68 37.81 52.94" y="0" font-size="27.2" fill="#000" > / 24</text>
<path transform="translate(1099.45,1183.70) scale(0.01328,-0.01355)" d="M763,0 L583,0 L583,1147 Q518,1085 421,1028 Q324,971 222,933 L222,1107 Q390,1186 499,1283.5 Q608,1381 646,1466 L763,1466 Z" fill="#000"/>
<path transform="translate(1122.14,1183.70) scale(0.01328,-0.01355)" d="M763,0 L583,0 L583,1147 Q518,1085 421,1028 Q324,971 222,933 L222,1107 Q390,1186 499,1283.5 Q608,1381 646,1466 L763,1466 Z" fill="#000"/>
<text transform="translate(1297.25,1183.70) scale(1,1.06)" x="0.00 15.13 22.68 37.81 52.94" y="0" font-size="27.2" fill="#000" > /582</text>
<path transform="translate(1297.25,1183.70) scale(0.01328,-0.01355)" d="M763,0 L583,0 L583,1147 Q518,1085 421,1028 Q324,971 222,933 L222,1107 Q390,1186 499,1283.5 Q608,1381 646,1466 L763,1466 Z" fill="#000"/>
<text transform="translate(806.48,1223.80) scale(1,1.06)" x="0" y="0" font-size="27.2" fill="#000" >interval</text>
<text transform="translate(1107.35,1223.80) scale(1,1.06)" x="0.00 15.13 22.68 37.81" y="0" font-size="27.2" fill="#000" > /25</text>
<path transform="translate(1107.35,1223.80) scale(0.01328,-0.01355)" d="M763,0 L583,0 L583,1147 Q518,1085 421,1028 Q324,971 222,933 L222,1107 Q390,1186 499,1283.5 Q608,1381 646,1466 L763,1466 Z" fill="#000"/>
<text transform="translate(1297.25,1223.80) scale(1,1.06)" x="0.00 15.13 22.68 37.81 52.94" y="0" font-size="27.2" fill="#000" > / 70</text>
<path transform="translate(1297.25,1223.80) scale(0.01328,-0.01355)" d="M763,0 L583,0 L583,1147 Q518,1085 421,1028 Q324,971 222,933 L222,1107 Q390,1186 499,1283.5 Q608,1381 646,1466 L763,1466 Z" fill="#000"/>
<path transform="translate(1319.94,1223.80) scale(0.01328,-0.01355)" d="M763,0 L583,0 L583,1147 Q518,1085 421,1028 Q324,971 222,933 L222,1107 Q390,1186 499,1283.5 Q608,1381 646,1466 L763,1466 Z" fill="#000"/>
<line x1="1170.20" y1="1171.40" x2="1178.00" y2="1171.40" stroke="#000" stroke-width="2.4" />
<line x1="1371.20" y1="1171.20" x2="1378.60" y2="1171.20" stroke="#000" stroke-width="2.4" />
</svg>
</body></html>
